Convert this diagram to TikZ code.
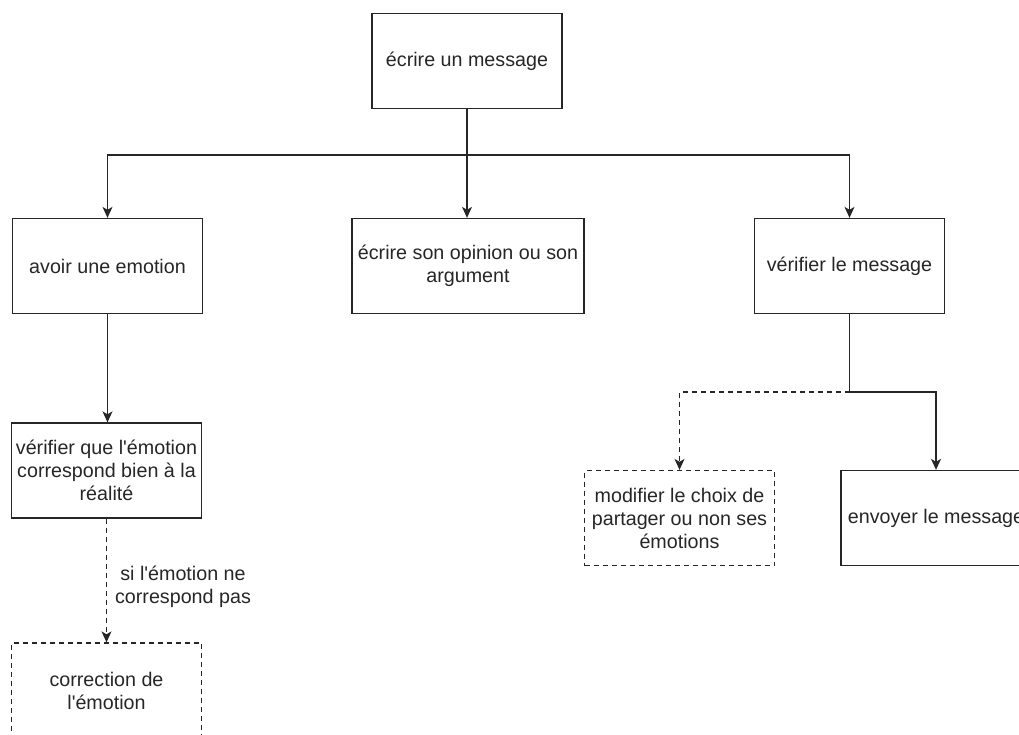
\documentclass[tikz,border=0pt]{standalone}
\usepackage{fontspec}
\setmainfont{Liberation Sans}
\usetikzlibrary{arrows.meta}
\newcommand{\apos}{\textquotesingle}
\tikzset{
  box/.style={draw=black!85, line width=1.3pt, minimum width=190pt, minimum height=95pt,
    align=center, inner sep=2pt, font=\fontsize{19.7}{23}\selectfont, text=black!85},
  dbox/.style={box, dash pattern=on 5pt off 4pt},
  link/.style={draw=black!85, line width=1.3pt, -{Stealth[length=11pt,width=10pt,inset=3pt]}},
  dlink/.style={link, dash pattern=on 5pt off 4pt},
  lbl/.style={align=center, font=\fontsize{19.7}{23}\selectfont, text=black!85, inner sep=0pt},
}
\begin{document}
\begin{tikzpicture}[x=1pt,y=-1pt]
\useasboundingbox (0,0) rectangle (1019,735);
\clip (0,0) rectangle (1019,735);
\node[box] (top) at (467,61) {écrire un message};
\node[box] (left) at (107.5,266) {avoir une emotion};
\node[box, minimum width=232pt] (mid) at (468,266) {écrire son opinion ou son\\argument};
\node[box] (right) at (849.5,266) {vérifier le message};
\node[box] (verif) at (106.5,470.5) {vérifier que l\apos émotion\\correspond bien à la\\réalité};
\node[dbox] (corr) at (106.5,690.5) {correction de\\l\apos émotion};
\node[dbox] (modif) at (679.5,518) {modifier le choix de\\partager ou non ses\\émotions};
\node[box] (env) at (936,518) {envoyer le message};
\coordinate (j1) at (467,155);
\coordinate (j2) at (849.5,392);
\node[lbl] (si) at (183,587) {si l\apos émotion ne\\correspond pas};
\draw[link] (top.south) -- (mid.north -| top.south);
\draw[link] (top.south) |- (j1) -| (left.north);
\draw[link] (top.south) |- (j1) -| (right.north);
\draw[link] (left.south) -- (verif.north -| left.south);
\draw[dlink] (verif.south) -- (corr.north);
\draw[draw=black!85, line width=1.3pt] (right.south) -- (j2);
\draw[dlink] (j2) -| (modif.north);
\draw[link] (j2) -| (env.north);
\end{tikzpicture}
\end{document}
